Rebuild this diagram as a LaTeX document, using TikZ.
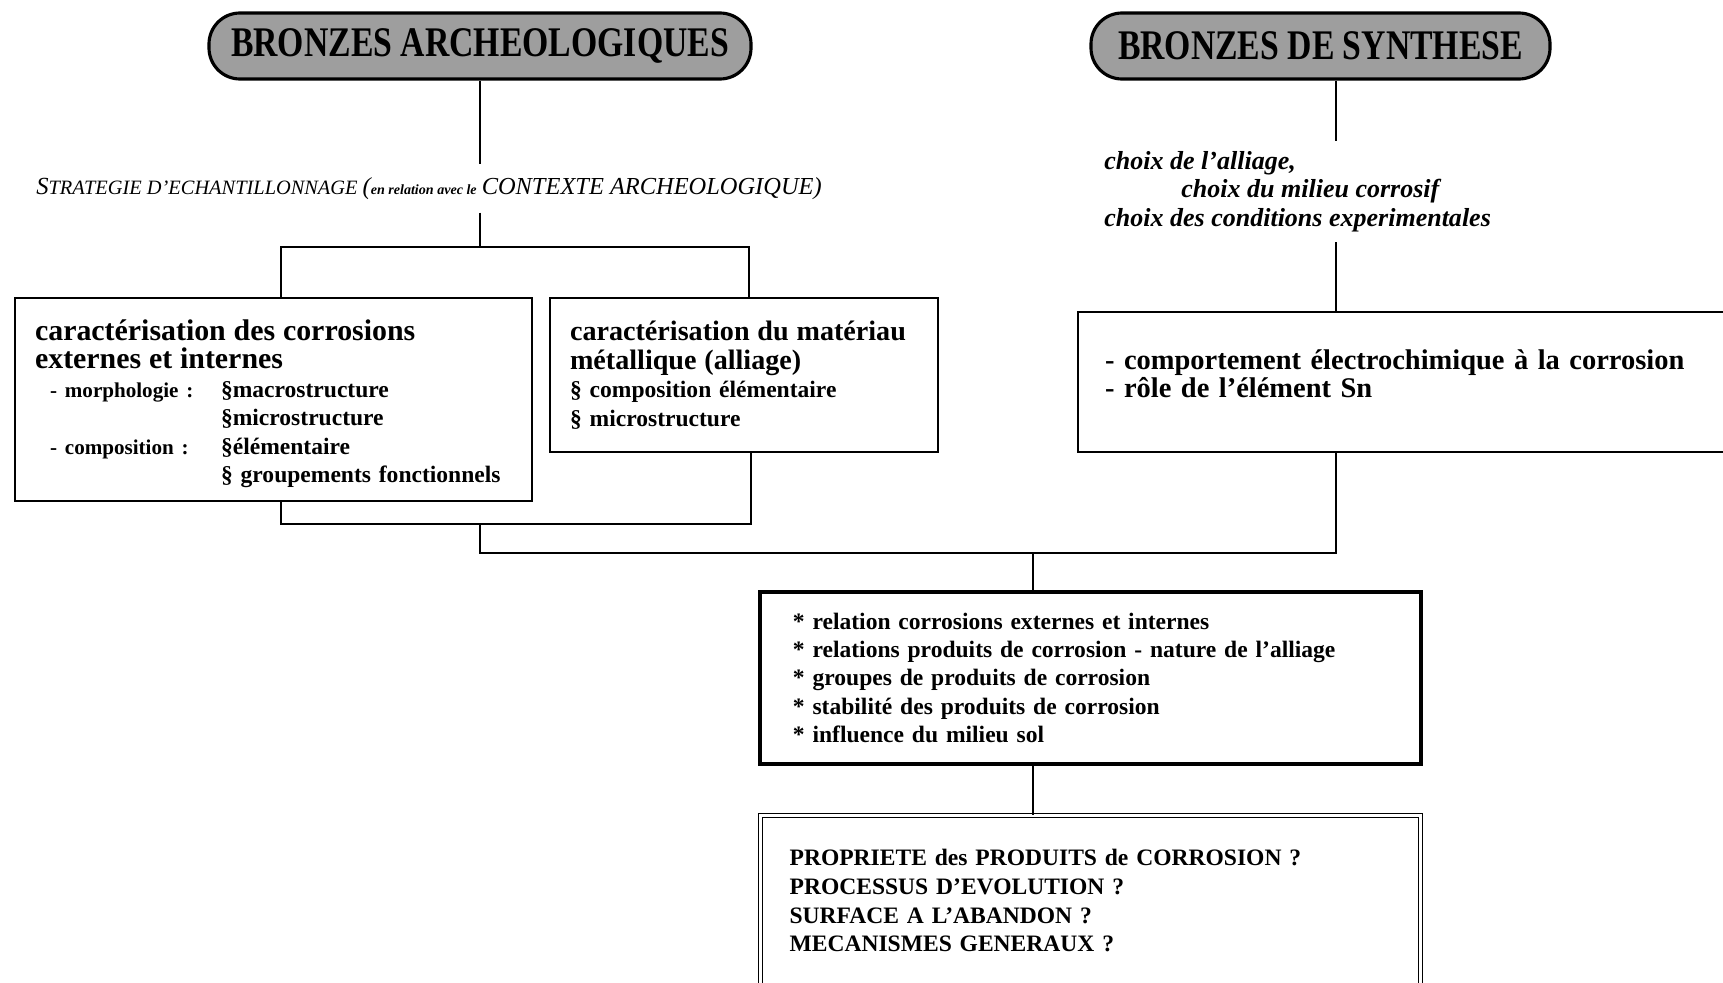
\documentclass[tikz,border=0pt]{standalone}
\usepackage{fontspec}
\setmainfont{Liberation Serif}
\usepackage{graphicx}
\usetikzlibrary{calc}

\begin{document}
\begin{tikzpicture}[
  pill/.style={draw,line width=1.8pt,fill=black!38,rounded corners=0.62cm,minimum height=1.32cm,inner sep=0pt,font=\bfseries\fontsize{24}{26}\selectfont},
  box/.style={draw,line width=1.2pt,anchor=north west,align=left,inner ysep=0pt,execute at begin node={\lineskiplimit=-20pt}},
  link/.style={line width=1.1pt},
  big/.style={font=\bfseries\fontsize{16.2}{16.2}\selectfont},
  small/.style={font=\bfseries\fontsize{13.4}{16.2}\selectfont}]
  \clip (0,0) rectangle (34.46,-19.66);

  \node[pill,minimum width=10.84cm] (pill1) at (9.6,-0.92) {\scalebox{0.8}[1]{BRONZES ARCHEOLOGIQUES}};
  \node[pill,minimum width=9.18cm] (pill2) at (26.41,-0.92) {\scalebox{0.8}[1]{BRONZES DE SYNTHESE}};

  \node[font=\itshape\fontsize{11.6}{14}\selectfont,inner ysep=0.26cm,inner xsep=0pt,anchor=base west] (strat) at (0.72,-3.88)
    {{\fontsize{14}{14}\selectfont S}TRATEGIE D'ECHANTILLONNAGE {\fontsize{13.9}{14}\selectfont(}{\bfseries\fontsize{8}{10}\selectfont en relation avec le} {\fontsize{13.9}{14}\selectfont CONTEXTE ARCHEOLOGIQUE)}};
  \node[font=\bfseries\itshape\fontsize{14.8}{16.2}\selectfont,align=left,anchor=north west,inner xsep=0pt,inner ysep=0.2cm] (choix) at (22.08,-2.82)
    {choix de l'alliage,\\ \hspace*{1.54cm}choix du milieu corrosif\\ choix des conditions experimentales};

  \node[box,small,text width=9.54cm,inner xsep=0.4cm,minimum height=4.06cm,text depth=2.78cm] (b1) at (0.28,-5.94)
    {{\fontsize{17}{16.2}\selectfont caractérisation des corrosions\\ externes et internes}\\
     \hspace*{0.3cm}\makebox[3.42cm][l]{\fontsize{12}{16}\selectfont - morphologie :}§macrostructure\\
     \hspace*{3.72cm}§microstructure\\
     \hspace*{0.3cm}\makebox[3.42cm][l]{\fontsize{12}{16}\selectfont - composition :}§élémentaire\\
     \hspace*{3.72cm}§ groupements fonctionnels};
  \node[box,small,text width=6.96cm,inner xsep=0.4cm,minimum height=3.08cm] (b2) at (10.98,-5.94)
    {{\fontsize{16}{16.2}\selectfont caractérisation du matériau\\ métallique (alliage)}\\
     § composition élémentaire\\
     § microstructure};
  \node[box,big,text width=12.92cm,inner xsep=0.54cm,minimum height=2.8cm,text depth=0.9cm] (b3) at (21.54,-6.22)
    {- comportement électrochimique à la corrosion\\ - rôle de l'élément Sn};
  \node[box,small,line width=2.2pt,text width=11.9cm,inner xsep=0.66cm,minimum height=3.44cm] (b4) at (15.16,-11.8)
    {{*} relation corrosions externes et internes\\
     {*} relations produits de corrosion - nature de l'alliage\\
     {*} groupes de produits de corrosion\\
     {*} stabilité des produits de corrosion\\
     {*} influence du milieu sol};
  \node[box,font=\bfseries\fontsize{13.4}{16.4}\selectfont,double,double distance=1.8pt,line width=0.7pt,text width=12.04cm,inner xsep=0.58cm,minimum height=3.4cm] (b5) at (15.2,-16.3)
    {PROPRIETE des PRODUITS de CORROSION ?\\
     PROCESSUS D'EVOLUTION ?\\
     SURFACE A L'ABANDON ?\\
     MECANISMES GENERAUX ?};

  \coordinate (splitA) at (9.6,-4.94);
  \coordinate (joinA) at (9.6,-10.48);
  \coordinate (joinB) at (20.66,-11.06);
  \coordinate (rlink) at (26.72,0);

  \draw[link] (pill1.south) -- (pill1.south |- strat.north);
  \draw[link] (strat.south -| pill1) -- (splitA);
  \draw[link] ($(b1.north)+(0.14,0)$) |- (splitA) -| ($(b2.north)+(0.1,0)$);
  \draw[link] ($(b1.south)+(0.14,0)$) |- (joinA) -| ($(b2.south)+(0.14,0)$);
  \draw[link] (joinA) |- (joinB) -| (b3.south -| rlink);
  \draw[link] (joinB) -- (joinB |- b4.north);
  \draw[link] (joinB |- b4.south) -- (joinB |- b5.north);
  \draw[link] (pill2.south -| rlink) -- (rlink |- choix.north);
  \draw[link] (rlink |- choix.south) -- (rlink |- b3.north);
\end{tikzpicture}
\end{document}
